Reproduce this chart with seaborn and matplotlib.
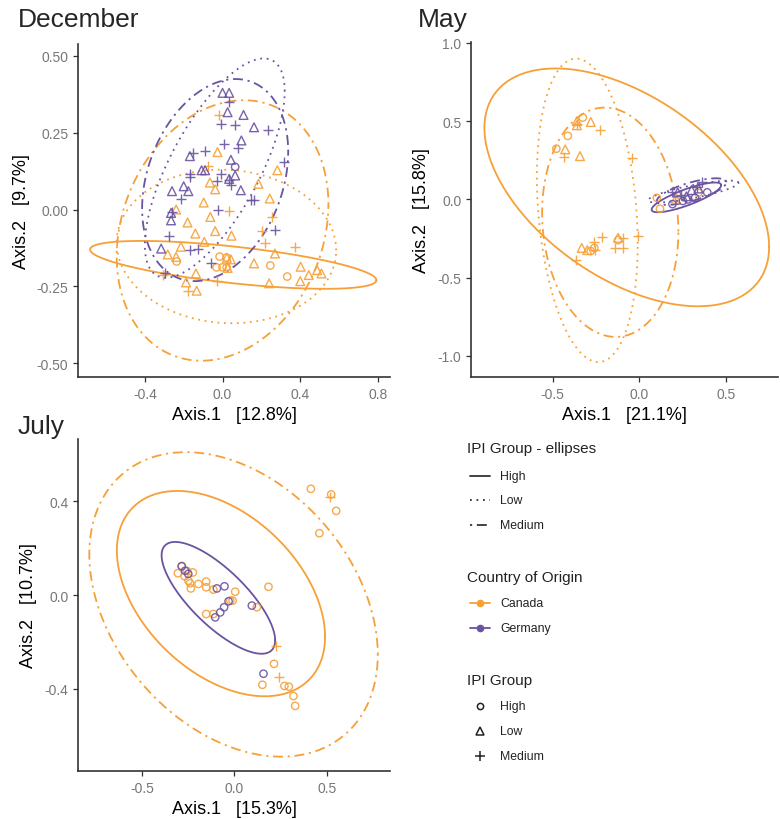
import numpy as np
import pandas as pd
import matplotlib
matplotlib.use("Agg")
import matplotlib.pyplot as plt
from matplotlib.lines import Line2D
import seaborn as sns

sns.set_theme(style="ticks")
plt.rcParams['font.family'] = ['Liberation Sans', 'DejaVu Sans']

ORANGE = "#F7A037"
PURPLE = "#6A53A1"
palette = {"Canada": ORANGE, "Germany": PURPLE}
markers = {"High": "o", "Low": "^", "Medium": "+"}
msize = {"High": 28, "Low": 40, "Medium": 60}
linestyles = {"High": "-", "Low": (0, (1, 2.6)), "Medium": (0, (1.2, 2.6, 5.5, 2.6))}

# ---------------- December ----------------
dec_de_low_x = [0.0, 0.034, 0.026, 0.108, 0.162, 0.097, -0.168, -0.108, -0.09, 0.043, 0.065, -0.26, -0.2, -0.176, 0.094, -0.265, -0.265, -0.316, 0.034]
dec_de_low_y = [0.38, 0.38, 0.317, 0.308, 0.268, 0.225, 0.174, 0.128, 0.128, 0.162, 0.111, 0.06, 0.076, 0.06, 0.063, -0.011, -0.035, -0.127, 0.1]
dec_de_med_x = [0.034, -0.009, 0.065, 0.236, 0.005, 0.082, -0.154, -0.09, -0.17, -0.17, -0.009, -0.026, 0.034, 0.043, -0.214, 0.145, 0.162, -0.022, -0.26, 0.316, 0.27, -0.274, -0.17, -0.128, -0.06, -0.294]
dec_de_med_y = [0.35, 0.28, 0.276, 0.26, 0.214, 0.2, 0.185, 0.19, 0.117, 0.106, 0.117, 0.092, 0.095, 0.079, 0.036, 0.03, 0.03, 0.0, -0.008, 0.155, -0.065, -0.085, -0.13, -0.127, -0.175, -0.208]
dec_de_high_x = [0.065]
dec_de_high_y = [0.139]
dec_ca_low_x = [-0.026, -0.065, -0.038, 0.282, 0.185, 0.243, -0.097, -0.239, -0.063, -0.18, -0.14, -0.038, 0.046, -0.094, -0.214, -0.282, -0.239, 0.27, 0.022, 0.162, -0.137, 0.026, 0.402, 0.444, 0.4, 0.24, 0.487, 0.509, -0.188, -0.133, 0.043]
dec_ca_low_y = [0.187, 0.088, 0.066, 0.128, 0.084, 0.036, 0.023, 0.0, -0.024, -0.042, -0.078, -0.07, -0.085, -0.105, -0.121, -0.146, -0.154, -0.143, -0.157, -0.175, -0.208, -0.19, -0.186, -0.213, -0.233, -0.24, -0.197, -0.208, -0.237, -0.264, -0.162]
dec_ca_high_x = [-0.015, 0.021, -0.031, 0.0, 0.021, -0.236, 0.246, 0.333]
dec_ca_high_y = [-0.153, -0.156, -0.188, -0.188, -0.188, -0.169, -0.182, -0.218]
dec_ca_med_x = [-0.02, -0.077, 0.031, 0.256, 0.205, 0.22, 0.374, -0.308, -0.18, -0.031]
dec_ca_med_y = [0.308, 0.143, -0.003, -0.023, -0.071, -0.11, -0.123, -0.214, -0.266, -0.234]

# ---------------- May ----------------
may_ca_high_x = [-0.478, -0.412, -0.326, 0.1, 0.118, -0.26, -0.123, 0.338, -0.28]
may_ca_high_y = [0.324, 0.406, 0.523, 0.01, -0.06, -0.31, -0.26, 0.043, -0.33]
may_ca_low_x = [-0.427, -0.36, -0.28, -0.342, -0.332, -0.3, 0.21, -0.123, -0.36]
may_ca_low_y = [0.32, 0.474, 0.495, 0.277, -0.31, -0.324, 0.004, -0.245, 0.5]
may_ca_med_x = [-0.432, -0.228, -0.044, -0.366, -0.26, -0.218, -0.142, -0.095, -0.095, -0.01, -0.256, -0.36]
may_ca_med_y = [0.271, 0.442, 0.263, -0.39, -0.273, -0.24, -0.31, -0.31, -0.245, -0.235, -0.324, 0.48]
may_de_high_x = [0.19, 0.28, 0.32, 0.39, 0.25]
may_de_high_y = [-0.03, 0.0, 0.01, 0.045, -0.01]
may_de_low_x = [0.22, 0.27, 0.3, 0.34]
may_de_low_y = [0.045, 0.02, 0.06, 0.07]
may_de_med_x = [0.19, 0.36, 0.33, 0.24]
may_de_med_y = [0.045, 0.11, 0.08, 0.03]

# ---------------- July ----------------
jul_ca_high_x = [0.413, 0.523, 0.55, 0.459, 0.184, 0.214, 0.151, 0.27, 0.294, 0.319, 0.328, 0.121, -0.306, -0.285, -0.258, -0.225, -0.249, -0.236, -0.195, -0.153, -0.153, -0.114, 0.004, -0.023, -0.01, -0.153, -0.114, -0.27, -0.24]
jul_ca_high_y = [0.452, 0.428, 0.358, 0.263, 0.035, -0.293, -0.382, -0.387, -0.39, -0.43, -0.472, -0.052, 0.093, 0.124, 0.103, 0.096, 0.061, 0.028, 0.047, 0.057, 0.033, 0.023, 0.014, -0.024, -0.024, -0.081, -0.081, 0.08, 0.05]
jul_ca_med_x = [0.517, 0.225, 0.243]
jul_ca_med_y = [0.418, -0.218, -0.349]
jul_de_high_x = [-0.285, -0.267, -0.095, -0.054, -0.032, -0.056, -0.077, -0.104, 0.094, 0.157, -0.25]
jul_de_high_y = [0.122, 0.103, 0.028, 0.037, -0.027, -0.052, -0.074, -0.095, -0.045, -0.335, 0.09]

# Ellipse summaries: country, group, centre x/y, half-extent x/y, correlation
dec_ell_country = ["Canada", "Canada", "Canada", "Germany", "Germany"]
dec_ell_group = ["High", "Low", "Medium", "Low", "Medium"]
dec_ell_cx = [0.055, 0.02, 0.0, -0.04, -0.038]
dec_ell_cy = [-0.18, -0.12, -0.068, 0.135, 0.096]
dec_ell_sx = [0.737, 0.565, 0.545, 0.36, 0.376]
dec_ell_sy = [0.078, 0.25, 0.424, 0.357, 0.329]
dec_ell_r = [-0.64, -0.05, 0.2, 0.7, 0.28]

may_ell_country = ["Canada", "Canada", "Canada", "Germany", "Germany", "Germany"]
may_ell_group = ["High", "Low", "Medium", "High", "Low", "Medium"]
may_ell_cx = [-0.073, -0.3, -0.168, 0.27, 0.31, 0.3]
may_ell_cy = [0.077, -0.07, -0.146, 0.013, 0.05, 0.05]
may_ell_sx = [0.819, 0.29, 0.392, 0.2, 0.26, 0.2]
may_ell_sy = [0.76, 0.97, 0.733, 0.095, 0.07, 0.085]
may_ell_r = [-0.5, -0.22, -0.08, 0.82, 0.8, 0.7]

jul_ell_country = ["Canada", "Canada", "Germany"]
jul_ell_group = ["High", "Medium", "High"]
jul_ell_cx = [-0.073, -0.005, -0.087]
jul_ell_cy = [0.006, -0.04, -0.012]
jul_ell_sx = [0.563, 0.78, 0.307]
jul_ell_sy = [0.437, 0.648, 0.238]
jul_ell_r = [-0.42, -0.33, -0.76]


def build(groups):
    rows = []
    for country, grp, xs, ys in groups:
        for a, b in zip(xs, ys):
            rows.append((a, b, country, grp))
    return pd.DataFrame(rows, columns=["x", "y", "country", "group"])


dec_df = build([
    ("Canada", "High", dec_ca_high_x, dec_ca_high_y),
    ("Canada", "Low", dec_ca_low_x, dec_ca_low_y),
    ("Canada", "Medium", dec_ca_med_x, dec_ca_med_y),
    ("Germany", "High", dec_de_high_x, dec_de_high_y),
    ("Germany", "Low", dec_de_low_x, dec_de_low_y),
    ("Germany", "Medium", dec_de_med_x, dec_de_med_y),
])
may_df = build([
    ("Canada", "High", may_ca_high_x, may_ca_high_y),
    ("Canada", "Low", may_ca_low_x, may_ca_low_y),
    ("Canada", "Medium", may_ca_med_x, may_ca_med_y),
    ("Germany", "High", may_de_high_x, may_de_high_y),
    ("Germany", "Low", may_de_low_x, may_de_low_y),
    ("Germany", "Medium", may_de_med_x, may_de_med_y),
])
jul_df = build([
    ("Canada", "High", jul_ca_high_x, jul_ca_high_y),
    ("Canada", "Medium", jul_ca_med_x, jul_ca_med_y),
    ("Germany", "High", jul_de_high_x, jul_de_high_y),
])


def ellipse_df(country, group, cx, cy, sx, sy, r):
    t = np.linspace(0, 2 * np.pi, 241)
    rows = []
    for c, g, a, b, ex, ey, rr in zip(country, group, cx, cy, sx, sy, r):
        xs = a + ex * np.cos(t)
        ys = b + ey * (rr * np.cos(t) + np.sqrt(1 - rr ** 2) * np.sin(t))
        for k, (u, v) in enumerate(zip(xs, ys)):
            rows.append((k, u, v, c, g))
    return pd.DataFrame(rows, columns=["k", "x", "y", "country", "group"])


fig = plt.figure(figsize=(7.8, 8.2), dpi=100)
W, H = 780.0, 820.0


def box(l, t, r, b):
    return [l / W, 1 - b / H, (r - l) / W, (b - t) / H]


ax_dec = fig.add_axes(box(78, 45, 390, 378))
ax_may = fig.add_axes(box(471, 43, 778, 378))
ax_jul = fig.add_axes(box(78, 440, 390, 772))

panels = [
    (ax_dec, dec_df, ellipse_df(dec_ell_country, dec_ell_group, dec_ell_cx, dec_ell_cy, dec_ell_sx, dec_ell_sy, dec_ell_r),
     (-0.744, 0.862), (-0.545, 0.539), [-0.4, 0.0, 0.4, 0.8], ["-0.4", "0.0", "0.4", "0.8"],
     [-0.5, -0.25, 0.0, 0.25, 0.5], ["-0.50", "-0.25", "0.00", "0.25", "0.50"], "Axis.1   [12.8%]", "Axis.2   [9.7%]"),
    (ax_may, may_df, ellipse_df(may_ell_country, may_ell_group, may_ell_cx, may_ell_cy, may_ell_sx, may_ell_sy, may_ell_r),
     (-0.969, 0.797), (-1.135, 1.006), [-0.5, 0.0, 0.5], ["-0.5", "0.0", "0.5"],
     [-1.0, -0.5, 0.0, 0.5, 1.0], ["-1.0", "-0.5", "0.0", "0.5", "1.0"], "Axis.1   [21.1%]", "Axis.2   [15.8%]"),
    (ax_jul, jul_df, ellipse_df(jul_ell_country, jul_ell_group, jul_ell_cx, jul_ell_cy, jul_ell_sx, jul_ell_sy, jul_ell_r),
     (-0.846, 0.841), (-0.749, 0.664), [-0.5, 0.0, 0.5], ["-0.5", "0.0", "0.5"],
     [-0.4, 0.0, 0.4], ["-0.4", "0.0", "0.4"], "Axis.1   [15.3%]", "Axis.2   [10.7%]"),
]

for ax, df, edf, xl, yl, xt, xtl, yt, ytl, xlab, ylab in panels:
    for (c, g), sub in df.groupby(["country", "group"]):
        col = palette[c]
        face = col if g == "Medium" else "none"
        sns.scatterplot(data=sub, x="x", y="y", ax=ax, marker=markers[g], s=msize[g],
                        facecolor=face, edgecolor=col, linewidth=1.0,
                        alpha=0.9, legend=False, zorder=3)
    for (c, g), sub in edf.groupby(["country", "group"]):
        sns.lineplot(data=sub, x="x", y="y", ax=ax, sort=False, estimator=None,
                     color=palette[c], linewidth=1.3, legend=False, zorder=2)
        ax.lines[-1].set_linestyle(linestyles[g])
    ax.set_xlim(*xl)
    ax.set_ylim(*yl)
    ax.set_xticks(xt)
    ax.set_xticklabels(xtl)
    ax.set_yticks(yt)
    ax.set_yticklabels(ytl)
    ax.set_xlabel(xlab, fontsize=13, color="black", labelpad=4)
    ax.set_ylabel(ylab, fontsize=13, color="black", labelpad=5)
    ax.tick_params(axis="both", labelsize=10, colors="#777777", length=3.5, width=0.9)
    ax.tick_params(axis="both", color="#333333")
    for side in ["top", "right"]:
        ax.spines[side].set_visible(False)
    for side in ["left", "bottom"]:
        ax.spines[side].set_color("#333333")
        ax.spines[side].set_linewidth(1.2)
    ax.set_facecolor("white")

# Panel titles
fig.text(18 / W, 1 - 20 / H, "December", fontsize=19, va="center", ha="left")
fig.text(418 / W, 1 - 20 / H, "May", fontsize=19, va="center", ha="left")
fig.text(18 / W, 1 - 427 / H, "July", fontsize=19, va="center", ha="left")

# Legend (drawn in figure pixel space)
def fx(px):
    return px / W


def fy(py):
    return 1 - py / H


title_fs = 11
lab_fs = 8.8
fig.text(fx(467), fy(449), "IPI Group - ellipses", fontsize=title_fs, va="center", ha="left", color="#222222")
for py, g in zip([477, 501, 526], ["High", "Low", "Medium"]):
    fig.add_artist(Line2D([fx(470), fx(490)], [fy(py), fy(py)], color="#333333", lw=1.3,
                          linestyle=linestyles[g], transform=fig.transFigure))
    fig.text(fx(500), fy(py), g, fontsize=lab_fs, va="center", ha="left", color="#222222")

fig.text(fx(467), fy(578), "Country of Origin", fontsize=title_fs, va="center", ha="left", color="#222222")
for py, c in zip([604, 629], ["Canada", "Germany"]):
    fig.add_artist(Line2D([fx(470), fx(490)], [fy(py), fy(py)], color=palette[c], lw=1.3,
                          transform=fig.transFigure))
    fig.add_artist(Line2D([fx(480)], [fy(py)], color=palette[c], marker="o", markersize=4.5,
                          transform=fig.transFigure))
    fig.text(fx(500), fy(py), c, fontsize=lab_fs, va="center", ha="left", color="#222222")

fig.text(fx(467), fy(681), "IPI Group", fontsize=title_fs, va="center", ha="left", color="#222222")
for py, g in zip([707, 732, 757], ["High", "Low", "Medium"]):
    fig.add_artist(Line2D([fx(480)], [fy(py)], color="#222222", marker=markers[g],
                          markersize={"High": 4.5, "Low": 5.5, "Medium": 7}[g],
                          markerfacecolor="none", markeredgewidth=1.1, transform=fig.transFigure))
    fig.text(fx(500), fy(py), g, fontsize=lab_fs, va="center", ha="left", color="#222222")

fig.savefig("out.png", dpi=100, facecolor="white")
